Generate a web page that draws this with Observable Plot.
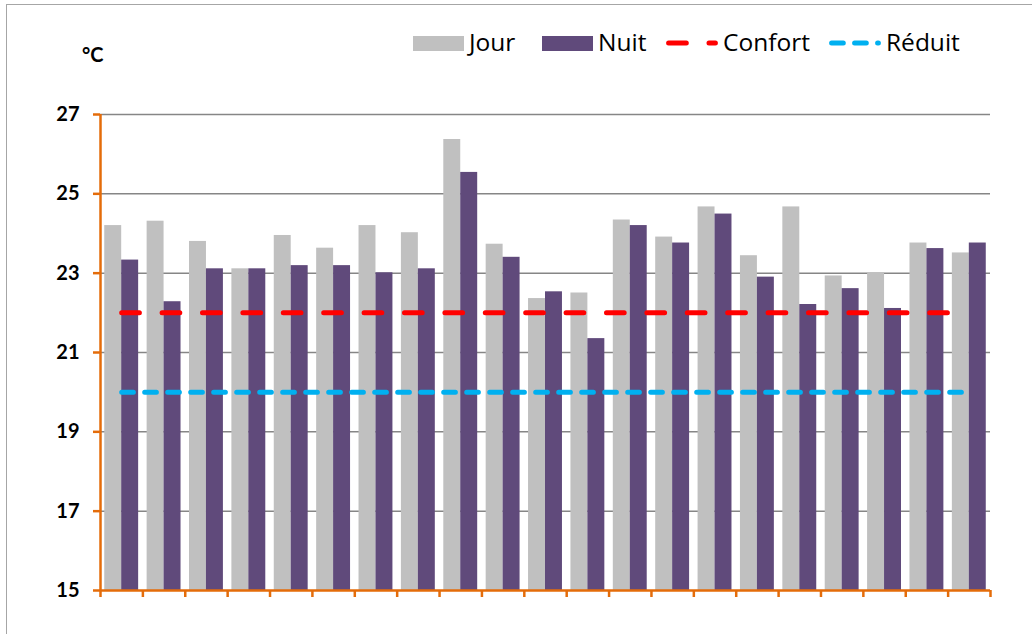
<!DOCTYPE html>
<html>
<head>
<meta charset="utf-8">
<script src="https://cdn.jsdelivr.net/npm/d3@7"></script>
<script src="https://cdn.jsdelivr.net/npm/@observablehq/plot@0.6"></script>
<style>
  html, body { margin: 0; padding: 0; background: #fff; }
  #wrap { position: relative; width: 1032px; height: 634px; overflow: hidden; font-family: "Lato", "Open Sans", sans-serif; }
  #frame { position: absolute; left: 6px; top: 4px; width: 1040px; height: 660px; border: 1.5px solid #a6a6a6; box-sizing: border-box; }
  #chart { position: absolute; left: 0; top: 0; }
  #unit { position: absolute; left: 82px; top: 42px; font-weight: bold; font-size: 20px; color: #000; }
  .leg { position: absolute; top: 29px; display: flex; align-items: flex-end; gap: 5px; font-family: "Open Sans", sans-serif; font-size: 24.5px; color: #000; line-height: 25px; }
  .sw { width: 51px; height: 15px; margin-bottom: 3px; }
</style>
</head>
<body>
<div id="wrap">
  <div id="frame"></div>
  <div id="chart"></div>
  <div id="unit">°C</div>
  <div id="legend"></div>
</div>
<script>
// ---- Data ----
const groups = [1,2,3,4,5,6,7,8,9,10,11,12,13,14,15,16,17,18,19,20,21];
const jour = [24.2,24.31,23.8,23.11,23.95,23.63,24.2,24.02,26.37,23.73,22.36,22.5,24.34,23.91,24.67,23.44,24.67,22.93,23.0,23.76,23.51];
const nuit = [23.33,22.28,23.11,23.11,23.19,23.19,23.01,23.11,25.54,23.4,22.53,21.35,24.2,23.76,24.49,22.9,22.21,22.61,22.11,23.62,23.76];
const confort = [22,22,22,22,22,22,22,22,22,22,22,22,22,22,22,22,22,22,22,22,22];
const reduit = [20,20,20,20,20,20,20,20,20,20,20,20,20,20,20,20,20,20,20,20,20];
const yTicks = [15,17,19,21,23,25,27];
const seriesNames = ["Jour","Nuit","Confort","Réduit"];

// ---- Styles ----
const colJour = "#C0C0C0", colNuit = "#604A7B", colConf = "#FF0000", colRed = "#00B0F0";
const orange = "#E46C0A", gridCol = "#868686";
const dashConf = "17.7,22.7", dashRed = "11.7,11.3";

const bars = [];
groups.forEach((g, i) => {
  bars.push({group: g, series: "Jour", value: jour[i]});
  bars.push({group: g, series: "Nuit", value: nuit[i]});
});
const lines = [];
groups.forEach((g, i) => {
  lines.push({group: g, series: "Confort", value: confort[i]});
  lines.push({group: g, series: "Réduit", value: reduit[i]});
});
const boundaries = d3.range(0, groups.length + 1).map(k => k + 0.5);
const barHalf = 0.4;
const base = yTicks[0];

const plot = Plot.plot({
  width: 1032,
  height: 634,
  marginLeft: 100,
  marginRight: 42,
  marginTop: 114,
  marginBottom: 44,
  style: {fontFamily: "Lato, 'Open Sans', sans-serif", fontSize: "20px", fontWeight: "bold", background: "transparent", overflow: "visible"},
  x: {type: "linear", domain: [0.5, groups.length + 0.5]},
  y: {domain: [yTicks[0], yTicks[yTicks.length - 1]]},
  marks: [
    Plot.ruleY(yTicks.slice(1), {stroke: gridCol, strokeWidth: 1.5}),
    Plot.rectY(bars, {
      x1: d => d.series === "Jour" ? d.group - barHalf : d.group,
      x2: d => d.series === "Jour" ? d.group : d.group + barHalf,
      y1: base,
      y2: "value",
      fill: d => d.series === "Jour" ? colJour : colNuit
    }),
    Plot.lineY(lines.filter(d => d.series === "Réduit"), {x: "group", y: "value", stroke: colRed, strokeWidth: 5, strokeDasharray: dashRed, strokeLinecap: "round"}),
    Plot.lineY(lines.filter(d => d.series === "Confort"), {x: "group", y: "value", stroke: colConf, strokeWidth: 5, strokeDasharray: dashConf, strokeLinecap: "round"}),
    Plot.ruleX([0.5], {stroke: orange, strokeWidth: 2.5}),
    Plot.ruleY([base], {stroke: orange, strokeWidth: 2.5}),
    Plot.axisY({ticks: yTicks, tickSize: 7, tickPadding: 14, stroke: orange, strokeWidth: 2.5, fill: "#000", fontSize: 20, fontWeight: "bold", label: null, tickFormat: d => String(d)}),
    Plot.axisX({ticks: boundaries, tickSize: 7, stroke: orange, strokeWidth: 2.5, label: null, tickFormat: () => ""})
  ]
});
document.getElementById("chart").appendChild(plot);

// ---- Legend ----
const legend = document.getElementById("legend");
const legendLeft = [413, 542, 666, 829];
const legendKinds = [
  {kind: "box", color: colJour},
  {kind: "box", color: colNuit},
  {kind: "line", color: colConf, dash: dashConf},
  {kind: "line", color: colRed, dash: dashRed}
];
seriesNames.forEach((name, i) => {
  const item = document.createElement("div");
  item.className = "leg";
  item.style.left = legendLeft[i] + "px";
  const k = legendKinds[i];
  if (k.kind === "box") {
    const sw = document.createElement("div");
    sw.className = "sw";
    sw.style.background = k.color;
    item.appendChild(sw);
  } else {
    const ns = "http://www.w3.org/2000/svg";
    const svg = document.createElementNS(ns, "svg");
    svg.setAttribute("width", 52);
    svg.setAttribute("height", 25);
    const ln = document.createElementNS(ns, "line");
    ln.setAttribute("x1", 2.6); ln.setAttribute("x2", 49.4);
    ln.setAttribute("y1", 14); ln.setAttribute("y2", 14);
    ln.setAttribute("stroke", k.color);
    ln.setAttribute("stroke-width", 5);
    ln.setAttribute("stroke-dasharray", k.dash);
    ln.setAttribute("stroke-linecap", "round");
    svg.appendChild(ln);
    item.appendChild(svg);
  }
  const t = document.createElement("span");
  t.textContent = name;
  item.appendChild(t);
  legend.appendChild(item);
});
</script>
</body>
</html>
